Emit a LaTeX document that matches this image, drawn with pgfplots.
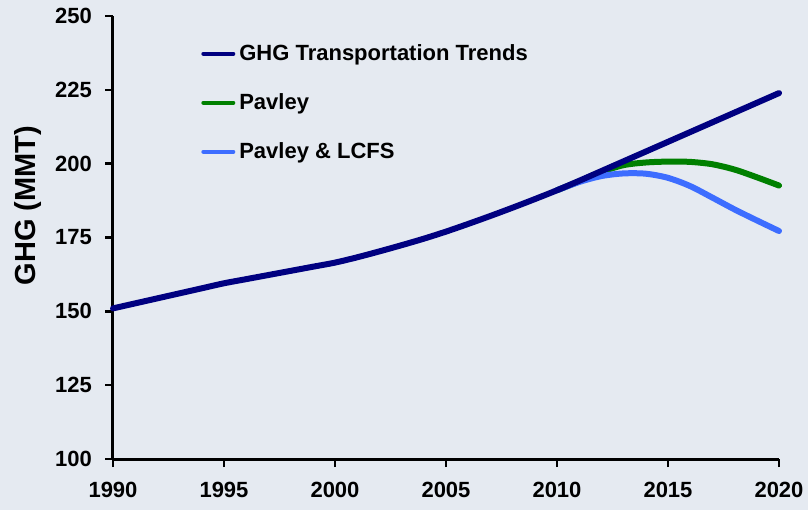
\documentclass[border=0pt]{standalone}
\usepackage{pgfplots}
\pgfplotsset{compat=1.18}
\usepackage{fontspec}
\setmainfont{Liberation Sans}
\definecolor{bg}{HTML}{E5EAF1}
\definecolor{trend}{HTML}{000080}
\definecolor{pav}{HTML}{008000}
\definecolor{lcfs}{HTML}{3D6DFF}

\begin{document}
\begin{tikzpicture}
\fill[bg] (-56.5pt,-25.5pt) rectangle (347.5pt,229.5pt);
\begin{axis}[
  scale only axis,
  width=333pt, height=221.5pt,
  at={(0,0)}, anchor=south west,
  xmin=1990, xmax=2020,
  ymin=100, ymax=250,
  xtick={1990,1995,...,2020},
  ytick={100,125,...,250},
  axis x line*=bottom,
  axis y line*=left,
  axis line style={line width=1.5pt, black},
  major tick style={line width=1.2pt, black},
  major tick length=4pt,
  tick align=outside,
  x tick label style={/pgf/number format/1000 sep={}, yshift=-4pt},
  y tick label style={xshift=-3pt},
  tick label style={font=\fontsize{11}{13}\selectfont\bfseries},
  /pgf/number format/assume math mode=true,
  ylabel={GHG (MMT)},
  ylabel style={font=\fontsize{14.5}{16}\selectfont\bfseries, at={(rel axis cs:0,0.572)}, anchor=center, yshift=42.5pt},
  legend style={at={(0.123,0.955)}, anchor=north west, draw=none, fill=none,
    font=\fontsize{11}{13}\selectfont\bfseries, row sep=11pt},
  legend cell align=left,
  legend image code/.code={\draw[#1, line width=2pt, line cap=round] (0pt,0pt) -- (15pt,0pt);},
  clip=false,
]
\addlegendimage{trend}
\addlegendentry{GHG Transportation Trends}

\addplot[pav, line width=3pt, smooth, line cap=round] coordinates {
  (2010,191.0) (2011,194.0) (2012,197.2) (2013,199.5) (2014,200.4) (2015,200.7)
  (2016,200.6) (2017,199.8) (2018,198.0) (2019,195.4) (2020,192.6)
};
\addlegendentry{Pavley}

\addplot[lcfs, line width=3pt, smooth, line cap=round] coordinates {
  (2010,191.0) (2011,193.8) (2012,195.8) (2013,196.7) (2014,196.6) (2015,195.2)
  (2016,192.4) (2017,188.5) (2018,184.5) (2019,180.8) (2020,177.2)
};
\addlegendentry{Pavley \& LCFS}

\addplot[trend, line width=3pt, smooth, line cap=round, forget plot] coordinates {
  (1990,151.0) (1991,152.7) (1992,154.4) (1993,156.1) (1994,157.8) (1995,159.5)
  (1996,160.9) (1997,162.3) (1998,163.7) (1999,165.1) (2000,166.5)
  (2001,168.3) (2002,170.3) (2003,172.4) (2004,174.6) (2005,177.0)
  (2006,179.6) (2007,182.3) (2008,185.1) (2009,188.0) (2010,191.0)
  (2011,194.2) (2012,197.5) (2013,200.8) (2014,204.1) (2015,207.4)
  (2016,210.7) (2017,214.0) (2018,217.3) (2019,220.6) (2020,223.9)
};
\end{axis}
\pgfresetboundingbox
\path[use as bounding box] (-56.5pt,-25.5pt) rectangle (347.5pt,229.5pt);
\end{tikzpicture}
\end{document}
